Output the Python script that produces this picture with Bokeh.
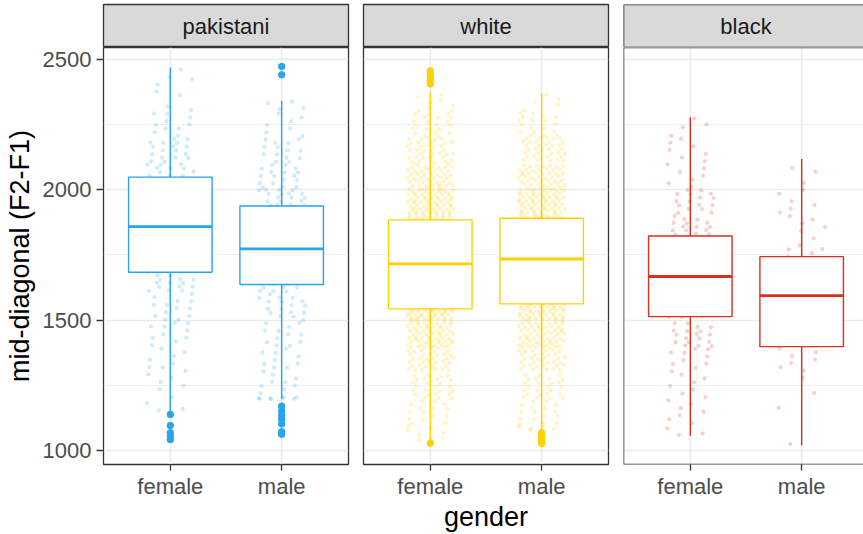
from bokeh.plotting import figure
from bokeh.layouts import row, column
from bokeh.models import FixedTicker, Range1d, Span
from bokeh.core.properties import value
from bokeh.embed import file_html
from bokeh.resources import INLINE

# ---------------- data ----------------
groups = ["pakistani", "white", "black"]
genders = ["female", "male"]
group_colors = ["#27A4EC", "#FFD000", "#DC2E1E"]
x_title = "gender"
y_title = "mid-diagonal (F2-F1)"

# box statistics: lower whisker, Q1, median, Q3, upper whisker
pakistani_female_box = [1150, 1683, 1858, 2048, 2468]
pakistani_male_box = [1198, 1636, 1773, 1937, 2341]
white_female_box = [1035, 1543, 1715, 1884, 2373]
white_male_box = [1077, 1562, 1734, 1890, 2370]
black_female_box = [1057, 1513, 1667, 1822, 2277]
black_male_box = [1019, 1398, 1594, 1743, 2117]

# outliers
pakistani_female_out = [1138, 1096, 1068, 1055, 1042]
pakistani_male_out = [2472, 2440, 1170, 1152, 1135, 1120, 1102, 1072, 1062]
white_female_out = [2455, 2445, 2432, 2418, 2405, 1028]
white_male_out = [1068, 1058, 1048, 1040, 1033, 1027]
black_female_out = []
black_male_out = []

# estimated number of jittered observations per 100-Hz bin (1000-1100, ..., 2400-2500)
bin_edges = [1000, 1100, 1200, 1300, 1400, 1500, 1600, 1700, 1800, 1900,
             2000, 2100, 2200, 2300, 2400, 2500]
pakistani_female_counts = [4, 3, 6, 8, 10, 12, 20, 30, 30, 27, 20, 17, 10, 4, 4]
pakistani_male_counts = [4, 6, 10, 10, 12, 17, 24, 27, 27, 24, 17, 14, 7, 4, 2]
white_female_counts = [8, 15, 25, 40, 60, 80, 90, 90, 80, 65, 50, 35, 20, 8, 3]
white_male_counts = [6, 15, 25, 40, 55, 75, 85, 85, 80, 65, 50, 35, 18, 5, 0]
black_female_counts = [3, 7, 7, 10, 18, 25, 26, 24, 20, 16, 7, 7, 4, 0, 0]
black_male_counts = [1, 1, 2, 7, 7, 10, 10, 9, 6, 6, 3, 0, 0, 0, 0]

y_major = [1000, 1500, 2000, 2500]
y_minor = [1250, 1750, 2250]

boxes = {
    ("pakistani", "female"): pakistani_female_box, ("pakistani", "male"): pakistani_male_box,
    ("white", "female"): white_female_box, ("white", "male"): white_male_box,
    ("black", "female"): black_female_box, ("black", "male"): black_male_box,
}
outs = {
    ("pakistani", "female"): pakistani_female_out, ("pakistani", "male"): pakistani_male_out,
    ("white", "female"): white_female_out, ("white", "male"): white_male_out,
    ("black", "female"): black_female_out, ("black", "male"): black_male_out,
}
counts = {
    ("pakistani", "female"): pakistani_female_counts, ("pakistani", "male"): pakistani_male_counts,
    ("white", "female"): white_female_counts, ("white", "male"): white_male_counts,
    ("black", "female"): black_female_counts, ("black", "male"): black_male_counts,
}

# ---------------- layout ----------------
FONT = "Liberation Sans"
W_TOTAL, H_TOTAL = 863, 534
LEFT1 = 103
GAP_L, GAP_R = 8, 7
PANEL_W = 245
TOP = 4
STRIP_H = 43
PANEL_H = 417
BOTTOM = H_TOTAL - TOP - STRIP_H - PANEL_H
BORDER = "#333333"

all_vals = []
for k in boxes:
    all_vals += [boxes[k][0], boxes[k][4]] + outs[k]
dmin, dmax = min(all_vals), max(all_vals)
pad = 0.05 * (dmax - dmin)
y_lo, y_hi = dmin - pad, dmax + pad

A1, A2 = 0.7548776662466927, 0.5698402909980532


def jitter_points(key, xpos):
    wlo, whi = boxes[key][0], boxes[key][4]
    xs, ys = [], []
    j = 0
    for i, n in enumerate(counts[key]):
        lo = max(bin_edges[i], wlo)
        hi = min(bin_edges[i + 1], whi)
        if hi <= lo:
            continue
        for _ in range(n):
            j += 1
            fx = (0.5 + j * A1) % 1.0
            fy = (0.5 + j * A2) % 1.0
            xs.append(xpos + (fx - 0.5) * 0.42)
            ys.append(lo + fy * (hi - lo))
    return xs, ys


def edge_spans(p, x0, y0, y1):
    for loc, dim in ((x0, "height"), (y0, "width"), (y1, "width")):
        p.add_layout(Span(location=loc, dimension=dim, line_color=BORDER, line_width=1.6))


def make_column(gi):
    g = groups[gi]
    col = group_colors[gi]
    first = gi == 0
    last = gi == len(groups) - 1
    ml = LEFT1 if first else GAP_L
    mr = 0 if last else GAP_R
    fw = (W_TOTAL - (LEFT1 + PANEL_W + GAP_R) - (GAP_L + PANEL_W + GAP_R) - GAP_L) if last else PANEL_W
    x_end = 0.4 + 2.2 * fw / PANEL_W

    # ---- facet strip ----
    s = figure(width=ml + fw + mr, height=TOP + STRIP_H, output_backend="svg",
               toolbar_location=None, x_range=Range1d(0.4, x_end), y_range=Range1d(0, 1),
               min_border_left=ml, min_border_right=mr, min_border_top=TOP,
               min_border_bottom=0)
    s.axis.visible = False
    s.grid.visible = False
    s.background_fill_color = "#D9D9D9"
    s.border_fill_color = "white"
    if last:
        s.outline_line_color = None
        edge_spans(s, 0.4, 0, 1)
    else:
        s.outline_line_color = BORDER
        s.outline_line_width = 1.3
    s.text(x=[1.5], y=[0.5], text=[g], text_align="center", text_baseline="middle",
           text_font=value(FONT), text_font_size="22px", text_color="#1A1A1A")

    # ---- panel ----
    p = figure(width=ml + fw + mr, height=PANEL_H + BOTTOM, output_backend="svg",
               toolbar_location=None, x_range=Range1d(0.4, x_end),
               y_range=Range1d(y_lo, y_hi),
               min_border_left=ml, min_border_right=mr,
               min_border_top=0, min_border_bottom=BOTTOM)
    p.background_fill_color = "white"
    p.border_fill_color = "white"
    if last:
        p.outline_line_color = None
        edge_spans(p, 0.4, y_lo, y_hi)
    else:
        p.outline_line_color = BORDER
        p.outline_line_width = 1.3

    xt = FixedTicker(ticks=[1, 2])
    p.xaxis.ticker = xt
    p.xgrid.ticker = xt
    p.xaxis.major_label_overrides = {1: genders[0], 2: genders[1]}
    yt = FixedTicker(ticks=y_major, minor_ticks=y_minor)
    p.yaxis.ticker = yt
    p.ygrid.ticker = yt
    p.xgrid.grid_line_color = "#EBEBEB"
    p.xgrid.grid_line_width = 1.6
    p.ygrid.grid_line_color = "#EBEBEB"
    p.ygrid.grid_line_width = 1.6
    p.ygrid.minor_grid_line_color = "#EBEBEB"
    p.ygrid.minor_grid_line_width = 0.8

    for ax in (p.xaxis[0], p.yaxis[0]):
        ax.axis_line_color = None
        ax.major_tick_line_color = BORDER
        ax.major_tick_line_width = 1.3
        ax.major_tick_in = 0
        ax.major_tick_out = 6
        ax.minor_tick_line_color = None
        ax.major_label_text_font = FONT
        ax.major_label_text_font_size = "22px"
        ax.major_label_text_color = "#4D4D4D"
        ax.axis_label_text_font = FONT
        ax.axis_label_text_font_size = "27px"
        ax.axis_label_text_font_style = "normal"
        ax.axis_label_text_color = "black"
    p.xaxis.major_label_standoff = 3
    p.yaxis.major_label_standoff = 5
    p.yaxis.major_tick_out = 7
    p.xaxis.axis_label = x_title if gi == 1 else " "
    p.xaxis.axis_label_standoff = 0
    if first:
        p.yaxis.axis_label = y_title
        p.yaxis.axis_label_standoff = 5
    else:
        p.yaxis.visible = False

    # jittered raw observations
    for gj, gen in enumerate(genders):
        xs, ys = jitter_points((g, gen), gj + 1)
        p.scatter(xs, ys, size=3.8, fill_color=col, fill_alpha=0.22,
                  line_color=col, line_alpha=0.12, line_width=0.5)

    # boxplots
    for gj, gen in enumerate(genders):
        wlo, q1, med, q3, whi = boxes[(g, gen)]
        xc = gj + 1
        p.segment([xc, xc], [q3, wlo], [xc, xc], [whi, q1], line_color=col, line_width=1.4)
        p.vbar(x=[xc], width=0.75, bottom=[q1], top=[q3], fill_color="white",
               line_color=col, line_width=1.4)
        p.segment([xc - 0.375], [med], [xc + 0.375], [med], line_color=col, line_width=2.8)
        o = outs[(g, gen)]
        if o:
            p.scatter([xc] * len(o), o, size=6.5, fill_color=col, line_color=col)

    return column(s, p, spacing=0)


layout = row(*[make_column(i) for i in range(len(groups))], spacing=0)
open("out.html", "w").write(file_html(layout, INLINE))
